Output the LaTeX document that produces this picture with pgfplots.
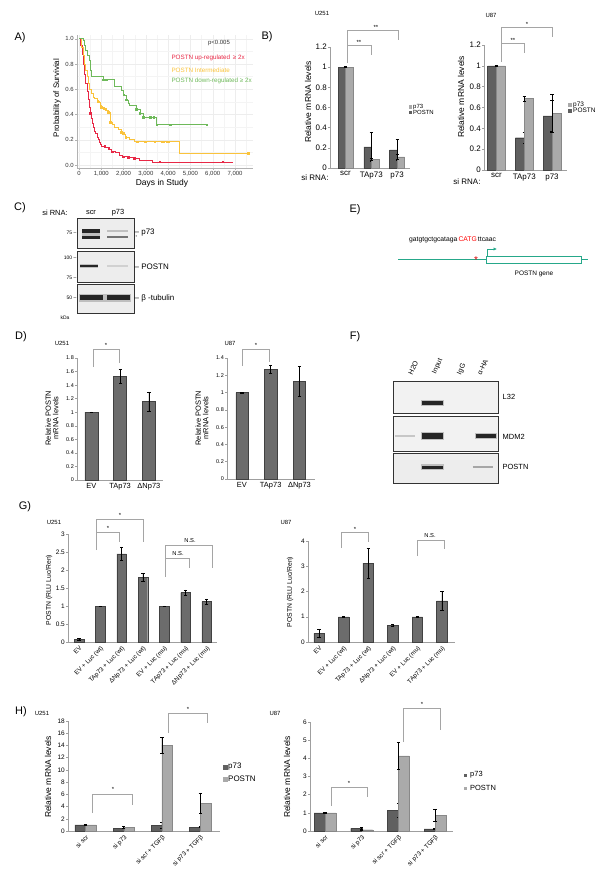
\documentclass[border=0pt]{standalone}
\usepackage{pgfplots}
\pgfplotsset{compat=1.18}
\usepackage{fontspec}
\setmainfont{Liberation Sans}
\usetikzlibrary{arrows.meta}
\definecolor{dbar}{RGB}{96,96,96}
\definecolor{lbar}{RGB}{170,170,170}
\definecolor{gbar}{RGB}{108,108,108}
\definecolor{teal2}{RGB}{38,168,138}
\definecolor{kmred}{RGB}{232,40,70}
\definecolor{kmorange}{RGB}{250,195,60}
\definecolor{kmgreen}{RGB}{110,185,90}
\definecolor{brk}{RGB}{165,165,165}
\newcommand{\fs}[1]{\fontsize{#1}{#1}\selectfont}
\pgfplotsset{
  barax/.style={scale only axis, anchor=south west, axis lines=left,
    axis line style={-, draw=gray!75, line width=0.5pt},
    tick align=outside, major tick length=2bp,
    ytick style={draw=gray!75, line width=0.5pt}, xtick style={draw=none},
    /pgf/number format/assume math mode=true, clip=false,
    yticklabel style={font=\fs{6}, inner sep=1bp}, xticklabel style={font=\fs{7}, inner sep=1.5bp}},
  eb/.style={error bars/y dir=both, error bars/y explicit,
    error bars/error bar style={line width=0.6pt, black},
    error bars/error mark options={rotate=90, line width=0.6pt, black, mark size=1.6bp}},
  dk/.style={ybar, fill=dbar, draw=dbar!70!black, line width=0.3pt, eb},
  lt/.style={ybar, fill=lbar, draw=lbar!80!black, line width=0.3pt, eb},
  gb/.style={ybar, fill=gbar, draw=gbar!60!black, line width=0.4pt, eb},
  blot/.style={scale only axis, anchor=south west, xmin=0, xmax=1, ymin=0, ymax=1, ticks=none,
    axis line style={draw=black!80, line width=0.7pt}, axis background/.style={fill=gray!14}},
  bandsoft/.style={black!25, line width=#1},
  band/.style={black!85, line width=#1},
}
\begin{document}
\begin{tikzpicture}
\useasboundingbox (0,0) rectangle (600bp,-884bp);

% ================= A =================
\begin{axis}[scale only axis, anchor=south west, at={(77bp,-168bp)}, width=176bp, height=133bp,
  xmin=-90, xmax=7808, ymin=-0.024, ymax=1.03,
  axis lines=left, axis line style={-, draw=gray!60, line width=0.4pt},
  xtick={0,1000,2000,3000,4000,5000,6000,7000},
  xticklabels={0,{1,000},{2,000},{3,000},{4,000},{5,000},{6,000},{7,000}},
  ytick={0,0.2,0.4,0.6,0.8,1}, yticklabels={0.0,0.2,0.4,0.6,0.8,1.0},
  minor xtick={500,1500,2500,3500,4500,5500,6500,7500},
  minor ytick={0.1,0.3,0.5,0.7,0.9},
  grid=both, major grid style={gray!14, line width=0.3pt}, minor grid style={gray!9, line width=0.3pt},
  tick align=outside, major tick length=2bp, minor tick length=0pt,
  tick style={draw=gray!60, line width=0.4pt},
  tick label style={font=\fs{6}, text=black!80, inner sep=1bp},
  /pgf/number format/assume math mode=true, clip=false]
\addplot[const plot, kmred, line width=0.6pt] coordinates {
 (0,1)(80,0.95)(150,0.88)(200,0.8)(250,0.72)(300,0.65)(350,0.58)(400,0.52)(450,0.46)(500,0.41)
 (550,0.37)(600,0.33)(650,0.3)(700,0.27)(750,0.25)(800,0.22)(850,0.2)(900,0.18)(950,0.165)
 (1000,0.15)(1200,0.14)(1350,0.125)(1450,0.11)(1650,0.1)(1800,0.08)(1950,0.065)(2200,0.06)
 (2500,0.055)(2700,0.04)(3300,0.025)(6900,0.025)};
\addplot[only marks, mark=square*, mark size=0.8bp, kmred] coordinates {
 (510,0.41)(1154,0.15)(1334,0.13)(1484,0.105)(1978,0.066)(2200,0.06)(2473,0.055)(3620,0.025)(6445,0.025)};
\addplot[const plot, kmorange, line width=0.6pt] coordinates {
 (0,1)(100,0.93)(180,0.87)(250,0.8)(300,0.75)(360,0.7)(420,0.65)(480,0.6)(555,0.57)(650,0.54)
 (705,0.53)(800,0.51)(855,0.5)(950,0.47)(1004,0.46)(1100,0.44)(1200,0.43)(1304,0.42)(1409,0.34)
 (1500,0.32)(1604,0.3)(1750,0.28)(1904,0.26)(2000,0.24)(2099,0.22)(2250,0.2)(2500,0.185)
 (4480,0.093)(7600,0.093)};
\addplot[only marks, mark=square*, mark size=0.8bp, kmorange] coordinates {
 (855,0.5)(1004,0.46)(1109,0.45)(1199,0.44)(1304,0.42)(1409,0.34)(1904,0.26)(1980,0.25)(2099,0.22)
 (2608,0.185)(2983,0.185)(3403,0.185)(3732,0.185)(3807,0.185)(3927,0.185)(4032,0.185)(7600,0.093)};
\addplot[const plot, kmgreen, line width=0.6pt] coordinates {
 (0,1)(180,0.99)(250,0.95)(300,0.91)(380,0.87)(450,0.83)(510,0.75)(555,0.7)(1079,0.675)
 (1600,0.62)(1900,0.59)(2009,0.556)(2128,0.516)(2200,0.49)(2278,0.47)(2578,0.44)(2728,0.41)
 (2878,0.38)(3478,0.32)(5725,0.32)};
\addplot[only marks, mark=square*, mark size=0.8bp, kmgreen] coordinates {
 (1079,0.675)(1154,0.675)(1229,0.675)(2009,0.556)(2128,0.516)(2578,0.44)(2728,0.41)(2878,0.38)
 (3200,0.38)(3350,0.38)(3478,0.32)(4090,0.32)(5725,0.32)};
\end{axis}

% ================= B U251 =================
\begin{axis}[barax, at={(330bp,-168bp)}, width=80bp, height=121bp, xmin=-0.6, xmax=2.5, ymin=0, ymax=1.2,
  ytick={0,0.2,0.4,0.6,0.8,1,1.2}, xtick={0,1,2}, xticklabels={scr,TAp73,p73},
  yticklabel style={font=\fs{8}}, xticklabel style={font=\fs{8}}]
\addplot[dk, bar width=0.29, bar shift=-0.145] coordinates {(0,1) +- (0,0.005) (1,0.21) +- (0,0.14) (2,0.18) +- (0,0.1)};
\addplot[lt, bar width=0.29, bar shift=0.145] coordinates {(0,1) +- (0,0.005) (1,0.085) +- (0,0.008) (2,0.11) +- (0,0.025)};
\end{axis}

% ================= B U87 =================
\begin{axis}[barax, at={(484bp,-170bp)}, width=83bp, height=125bp, xmin=-0.45, xmax=2.54, ymin=0, ymax=1.2,
  ytick={0,0.2,0.4,0.6,0.8,1,1.2}, xtick={0,1,2}, xticklabels={scr,TAp73,p73},
  yticklabel style={font=\fs{8}}, xticklabel style={font=\fs{8}}]
\addplot[dk, bar width=0.32, bar shift=-0.16] coordinates {(0,1) +- (0,0.005) (1,0.31) +- (0,0.05) (2,0.52) +- (0,0.15)};
\addplot[lt, bar width=0.32, bar shift=0.16] coordinates {(0,1) +- (0,0.005) (1,0.685) +- (0,0.025) (2,0.545) +- (0,0.18)};
\end{axis}

% ================= C blots =================
\begin{axis}[blot, at={(77bp,-248bp)}, width=57bp, height=30bp]
\addplot[bandsoft=7bp] coordinates {(0.08,0.47)(0.41,0.47)};
\addplot[band=4bp] coordinates {(0.09,0.56)(0.40,0.56)};
\addplot[band=3bp] coordinates {(0.09,0.36)(0.40,0.36)};
\addplot[black!55, line width=2bp] coordinates {(0.53,0.36)(0.9,0.36)};
\addplot[black!25, line width=2bp] coordinates {(0.53,0.56)(0.9,0.56)};
\end{axis}
\begin{axis}[blot, at={(77bp,-282bp)}, width=57bp, height=31bp]
\addplot[bandsoft=4bp] coordinates {(0.05,0.52)(0.37,0.52)};
\addplot[band=2.2bp] coordinates {(0.06,0.52)(0.36,0.52)};
\addplot[black!18, line width=2bp] coordinates {(0.53,0.52)(0.9,0.52)};
\end{axis}
\begin{axis}[blot, at={(77bp,-313bp)}, width=57bp, height=29bp]
\addplot[bandsoft=8bp] coordinates {(0.04,0.52)(0.95,0.52)};
\addplot[band=5bp] coordinates {(0.05,0.52)(0.46,0.52)};
\addplot[band=5bp] coordinates {(0.53,0.52)(0.93,0.52)};
\end{axis}

% ================= D U251 =================
\begin{axis}[barax, at={(77bp,-480bp)}, width=86bp, height=122bp, xmin=-0.5, xmax=2.49, ymin=0, ymax=1.8,
  ytick={0,0.2,0.4,0.6,0.8,1,1.2,1.4,1.6,1.8}, xtick={0,1,2}, xticklabels={EV,TAp73,ΔNp73},
  yticklabel style={font=\fs{5.5}}, xticklabel style={font=\fs{7.5}}]
\addplot[gb, bar width=0.45] coordinates {(0,1) +- (0,0.005) (1,1.53) +- (0,0.11) (2,1.16) +- (0,0.14)};
\end{axis}

% ================= D U87 =================
\begin{axis}[barax, at={(227bp,-479bp)}, width=88bp, height=121bp, xmin=-0.52, xmax=2.54, ymin=0, ymax=1.4,
  ytick={0,0.2,0.4,0.6,0.8,1,1.2,1.4}, xtick={0,1,2}, xticklabels={EV,TAp73,ΔNp73},
  yticklabel style={font=\fs{5.5}}, xticklabel style={font=\fs{7.5}}]
\addplot[gb, bar width=0.43] coordinates {(0,1) +- (0,0.003) (1,1.27) +- (0,0.05) (2,1.13) +- (0,0.17)};
\end{axis}

% ================= F gels =================
\begin{axis}[blot, at={(393bp,-413bp)}, width=105bp, height=32bp, axis background/.style={fill=gray!10}]
\addplot[bandsoft=6bp] coordinates {(0.27,0.31)(0.49,0.31)};
\addplot[band=3.5bp] coordinates {(0.28,0.31)(0.48,0.31)};
\end{axis}
\begin{axis}[blot, at={(393bp,-451bp)}, width=105bp, height=35bp, axis background/.style={fill=gray!10}]
\addplot[black!22, line width=2.5bp] coordinates {(0.02,0.43)(0.21,0.43)};
\addplot[bandsoft=8bp] coordinates {(0.27,0.43)(0.49,0.43)};
\addplot[band=5.5bp] coordinates {(0.28,0.43)(0.48,0.43)};
\addplot[bandsoft=6bp] coordinates {(0.78,0.43)(0.99,0.43)};
\addplot[band=3.5bp] coordinates {(0.79,0.43)(0.98,0.43)};
\end{axis}
\begin{axis}[blot, at={(393bp,-483bp)}, width=105bp, height=30bp, axis background/.style={fill=gray!14}]
\addplot[bandsoft=6bp] coordinates {(0.27,0.53)(0.49,0.53)};
\addplot[band=3.2bp] coordinates {(0.28,0.53)(0.48,0.53)};
\addplot[black!35, line width=2.5bp] coordinates {(0.76,0.53)(0.95,0.53)};
\end{axis}

% ================= G U251 =================
\begin{axis}[barax, at={(68bp,-642bp)}, width=149bp, height=108bp, xmin=-0.52, xmax=6.48, ymin=0, ymax=3,
  ytick={0,0.5,1,1.5,2,2.5,3}, xtick={0,...,6},
  xticklabels={EV,EV + Luc (wt),TAp73 + Luc (wt),ΔNp73 + Luc (wt),EV + Luc (mu),TAp73 + Luc (mu),ΔNp73 + Luc (mu)},
  yticklabel style={font=\fs{6.5}},
  xticklabel style={font=\fs{6.3}, rotate=45, anchor=north east, inner sep=1bp}]
\addplot[gb, bar width=0.45] coordinates {(0,0.08) +- (0,0.02) (1,1) +- (0,0.005) (2,2.45) +- (0,0.19)
  (3,1.79) +- (0,0.11) (4,1) +- (0,0.005) (5,1.37) +- (0,0.08) (6,1.12) +- (0,0.08)};
\end{axis}

% ================= G U87 =================
\begin{axis}[barax, at={(308bp,-642bp)}, width=147bp, height=101bp, xmin=-0.45, xmax=5.53, ymin=0, ymax=4,
  ytick={0,1,2,3,4}, xtick={0,...,5},
  xticklabels={EV,EV + Luc (wt),TAp73 + Luc (wt),ΔNp73 + Luc (wt),EV + Luc (mu),TAp73 + Luc (mu)},
  yticklabel style={font=\fs{6.5}},
  xticklabel style={font=\fs{6.3}, rotate=45, anchor=north east, inner sep=1bp}]
\addplot[gb, bar width=0.43] coordinates {(0,0.34) +- (0,0.15) (1,1) +- (0,0.005) (2,3.12) +- (0,0.6)
  (3,0.67) +- (0,0.05) (4,1) +- (0,0.005) (5,1.63) +- (0,0.37)};
\end{axis}

% ================= H U251 =================
\begin{axis}[barax, at={(68bp,-831bp)}, width=152bp, height=110bp, xmin=-0.46, xmax=3.52, ymin=0, ymax=18,
  ytick={0,2,4,6,8,10,12,14,16,18}, xtick={0,...,3},
  xticklabels={si scr,si p73,si scr + TGFβ,si p73 + TGFβ},
  yticklabel style={font=\fs{6.5}},
  xticklabel style={font=\fs{6.3}, rotate=45, anchor=north east, inner sep=1bp}]
\addplot[dk, bar width=0.28, bar shift=-0.14] coordinates {(0,1) +- (0,0.06) (1,0.45) +- (0,0.06) (2,0.98) +- (0,0.5) (3,0.65) +- (0,0.12)};
\addplot[lt, bar width=0.28, bar shift=0.14] coordinates {(0,1) +- (0,0.06) (1,0.6) +- (0,0.1) (2,14.05) +- (0,1.3) (3,4.55) +- (0,1.7)};
\end{axis}

% ================= H U87 =================
\begin{axis}[barax, at={(310bp,-831bp)}, width=143bp, height=109bp, xmin=-0.41, xmax=3.49, ymin=0, ymax=6,
  ytick={0,1,2,3,4,5,6}, xtick={0,...,3},
  xticklabels={si scr,si p73,si scr + TGFβ,si p73 + TGFβ},
  yticklabel style={font=\fs{6.5}},
  xticklabel style={font=\fs{6.3}, rotate=45, anchor=north east, inner sep=1bp}]
\addplot[dk, bar width=0.3, bar shift=-0.15] coordinates {(0,1) +- (0,0.01) (1,0.15) +- (0,0.05) (2,1.13) +- (0,0.38) (3,0.12) +- (0,0.05)};
\addplot[lt, bar width=0.3, bar shift=0.15] coordinates {(0,1) +- (0,0.01) (1,0.07) +- (0,0.02) (2,4.14) +- (0,0.72) (3,0.86) +- (0,0.35)};
\end{axis}

% ================= annotations =================
\begin{scope}[x=1bp, y=-1bp]
% panel letters
\foreach \t/\xx/\yy in {A)/20/38, B)/267/37, C)/20/208, D)/21/337, E)/355/210, F)/355/337, G)/25/507, H)/21/712}
  \node[font=\fs{11}] at (\xx,\yy) {\t};

% A texts
\node[font=\fs{6}, black!80] at (219,43) {p<0.005};
\node[font=\fs{6.3}, kmred, anchor=west] at (168,58) {POSTN up-regulated\, ≥ 2x};
\node[font=\fs{6.3}, kmorange, anchor=west] at (168,70) {POSTN Intermediate};
\node[font=\fs{6.3}, kmgreen, anchor=west] at (168,81) {POSTN down-regulated ≥ 2x};
\node[font=\fs{8}, rotate=90] at (57,98) {Probability of Survivial};
\node[font=\fs{8.5}] at (162,183) {Days in Study};

% B texts
\node[font=\fs{6}] at (322,13) {U251};
\node[font=\fs{6}] at (491,15) {U87};
\node[font=\fs{8.5}, rotate=90] at (308,102) {Relative mRNA levels};
\node[font=\fs{8.5}, rotate=90] at (461,97) {Relative mRNA levels};
\node[font=\fs{8}] at (315,178) {si RNA:};
\node[font=\fs{8}] at (467,182) {si RNA:};
\fill[lbar] (408.5,105) rectangle (412,108.5);
\node[font=\fs{6}, anchor=west, inner sep=0.5bp] at (412.5,106.8) {p73};
\fill[dbar] (408.5,110.5) rectangle (412,114);
\node[font=\fs{6}, anchor=west, inner sep=0.5bp] at (412.5,112.3) {POSTN};
\fill[lbar] (568,103) rectangle (572,107);
\node[font=\fs{6.5}, anchor=west, inner sep=0.5bp] at (572.5,105) {p73};
\fill[dbar] (568,108.5) rectangle (572,112.5);
\node[font=\fs{6.5}, anchor=west, inner sep=0.5bp] at (572.5,110.5) {POSTN};
\draw[brk, line width=0.6pt] (347,63) |- (398,30) -- (398,40);
\draw[brk, line width=0.6pt] (347,45) -- (371,45) -- (371,55);
\node[font=\fs{6}] at (376,27) {**};
\node[font=\fs{6}] at (359,42) {**};
\draw[brk, line width=0.6pt] (501,62) |- (552,27) -- (552,37);
\draw[brk, line width=0.6pt] (501,43) -- (524,43) -- (524,53);
\node[font=\fs{6}] at (527,24.5) {*};
\node[font=\fs{6}] at (513,40) {**};

% C texts
\node[font=\fs{7.5}] at (55,213) {si RNA:};
\node[font=\fs{7.5}] at (91,213) {scr};
\node[font=\fs{7.5}] at (118,213) {p73};
\node[font=\fs{5}, anchor=east, inner sep=0.5bp] at (77,233) {75 –};
\node[font=\fs{5}, anchor=east, inner sep=0.5bp] at (77,258) {100 –};
\node[font=\fs{5}, anchor=east, inner sep=0.5bp] at (77,278) {75 –};
\node[font=\fs{5}, anchor=east, inner sep=0.5bp] at (77,298) {50 –};
\node[font=\fs{5}] at (65,318) {kDa};
\node[font=\fs{8}, anchor=west, inner sep=0.5bp] at (134,233) {– p73};
\node[font=\fs{4}] at (136.5,237) {*};
\node[font=\fs{8}, anchor=west, inner sep=0.5bp] at (134,267) {– POSTN};
\node[font=\fs{8}, anchor=west, inner sep=0.5bp] at (134,298) {– β -tubulin};

% D texts
\node[font=\fs{6}] at (62,343) {U251};
\node[font=\fs{6}] at (230,343) {U87};
\node[font=\fs{7.5}, rotate=90, align=center] at (52,418) {Relative POSTN\\mRNA levels};
\node[font=\fs{7.5}, rotate=90, align=center] at (202,418) {Relative POSTN\\mRNA levels};
\draw[brk, line width=0.6pt] (93,367) |- (119,349) -- (119,363);
\node[font=\fs{6}] at (106,345) {*};
\draw[brk, line width=0.6pt] (242,366) |- (269,349) -- (269,362);
\node[font=\fs{6}] at (256,345) {*};

% E diagram
\node[font=\fs{6.8}, anchor=base west, inner sep=0] at (409,241) {gatgtgctgcataga\,\textcolor{red}{CATG}\,ttcaac};
\draw[teal2, line width=1.1pt] (398,259.5) -- (486,259.5);
\draw[teal2, line width=0.9pt, fill=white] (486,256) rectangle (581,263);
\draw[teal2, line width=1.1pt] (581,259.5) -- (588,259.5);
\draw[teal2, line width=0.9pt, -{Latex[length=3.5bp,width=3.5bp]}] (487.5,256) -- (487.5,249) -- (497,249);
\node[font=\fs{10}, red!85!black] at (476,260.5) {*};
\node[font=\fs{6.5}] at (534,274) {POSTN gene};

% F texts
\node[font=\fs{7}, rotate=65, anchor=west, inner sep=0.5bp] at (410,375) {H2O};
\node[font=\fs{7}, rotate=65, anchor=west, inner sep=0.5bp] at (434,374) {Input};
\node[font=\fs{7}, rotate=65, anchor=west, inner sep=0.5bp] at (459,375) {IgG};
\node[font=\fs{7}, rotate=65, anchor=west, inner sep=0.5bp] at (479,375) {α-HA};
\node[font=\fs{7.5}, anchor=west, inner sep=0.5bp] at (502,397) {L32};
\node[font=\fs{7.5}, anchor=west, inner sep=0.5bp] at (502,437) {MDM2};
\node[font=\fs{7.5}, anchor=west, inner sep=0.5bp] at (502,467) {POSTN};

% G texts
\node[font=\fs{6}] at (54,522) {U251};
\node[font=\fs{6}] at (286,522) {U87};
\node[font=\fs{6.8}, rotate=90] at (49,590) {POSTN (RLU Luc/Ren)};
\node[font=\fs{6.8}, rotate=90] at (290,592) {POSTN (RLU Luc/Ren)};
\draw[brk, line width=0.6pt] (96,550) |- (143,519) -- (143,542);
\draw[brk, line width=0.6pt] (96,532) -- (119,532) -- (119,542);
\node[font=\fs{6}] at (120,515.5) {*};
\node[font=\fs{6}] at (108,528.5) {*};
\draw[brk, line width=0.6pt] (165,577) |- (212,545) -- (212,568);
\draw[brk, line width=0.6pt] (165,558) -- (189,558) -- (189,568);
\node[font=\fs{5.8}] at (190,541) {N.S.};
\node[font=\fs{5.8}] at (178,554) {N.S.};
\draw[brk, line width=0.6pt] (341,548) |- (368,532) -- (368,542);
\node[font=\fs{6}] at (355,529) {*};
\draw[brk, line width=0.6pt] (417,556) |- (444,540) -- (444,549);
\node[font=\fs{5.8}] at (430,536) {N.S.};

% H texts
\node[font=\fs{6}] at (42,713) {U251};
\node[font=\fs{6}] at (275,713) {U87};
\node[font=\fs{8.5}, rotate=90] at (48,777) {Relative mRNA levels};
\node[font=\fs{8.5}, rotate=90] at (287,777) {Relative mRNA levels};
\fill[dbar] (223,765) rectangle (227.5,769.5);
\node[font=\fs{8}, anchor=west, inner sep=0.5bp] at (227.5,767) {p73};
\fill[lbar] (223,777) rectangle (227.5,781.5);
\node[font=\fs{8}, anchor=west, inner sep=0.5bp] at (227.5,779) {POSTN};
\fill[dbar] (464,773.5) rectangle (467,776.5);
\node[font=\fs{7.5}, anchor=west, inner sep=0.5bp] at (469.5,775) {p73};
\fill[lbar] (464,786.5) rectangle (467,789.5);
\node[font=\fs{7.5}, anchor=west, inner sep=0.5bp] at (469.5,788) {POSTN};
\draw[brk, line width=0.6pt] (92,813) |- (132,794) -- (132,805);
\node[font=\fs{6}] at (113,789.5) {*};
\draw[brk, line width=0.6pt] (168,733) |- (207,713) -- (207,723);
\node[font=\fs{6}] at (188,709.5) {*};
\draw[brk, line width=0.6pt] (331,806) |- (367,787) -- (367,797);
\node[font=\fs{6}] at (349,783) {*};
\draw[brk, line width=0.6pt] (403,742) |- (440,708) -- (440,730);
\node[font=\fs{6}] at (422,704) {*};
\end{scope}
\end{tikzpicture}
\end{document}
